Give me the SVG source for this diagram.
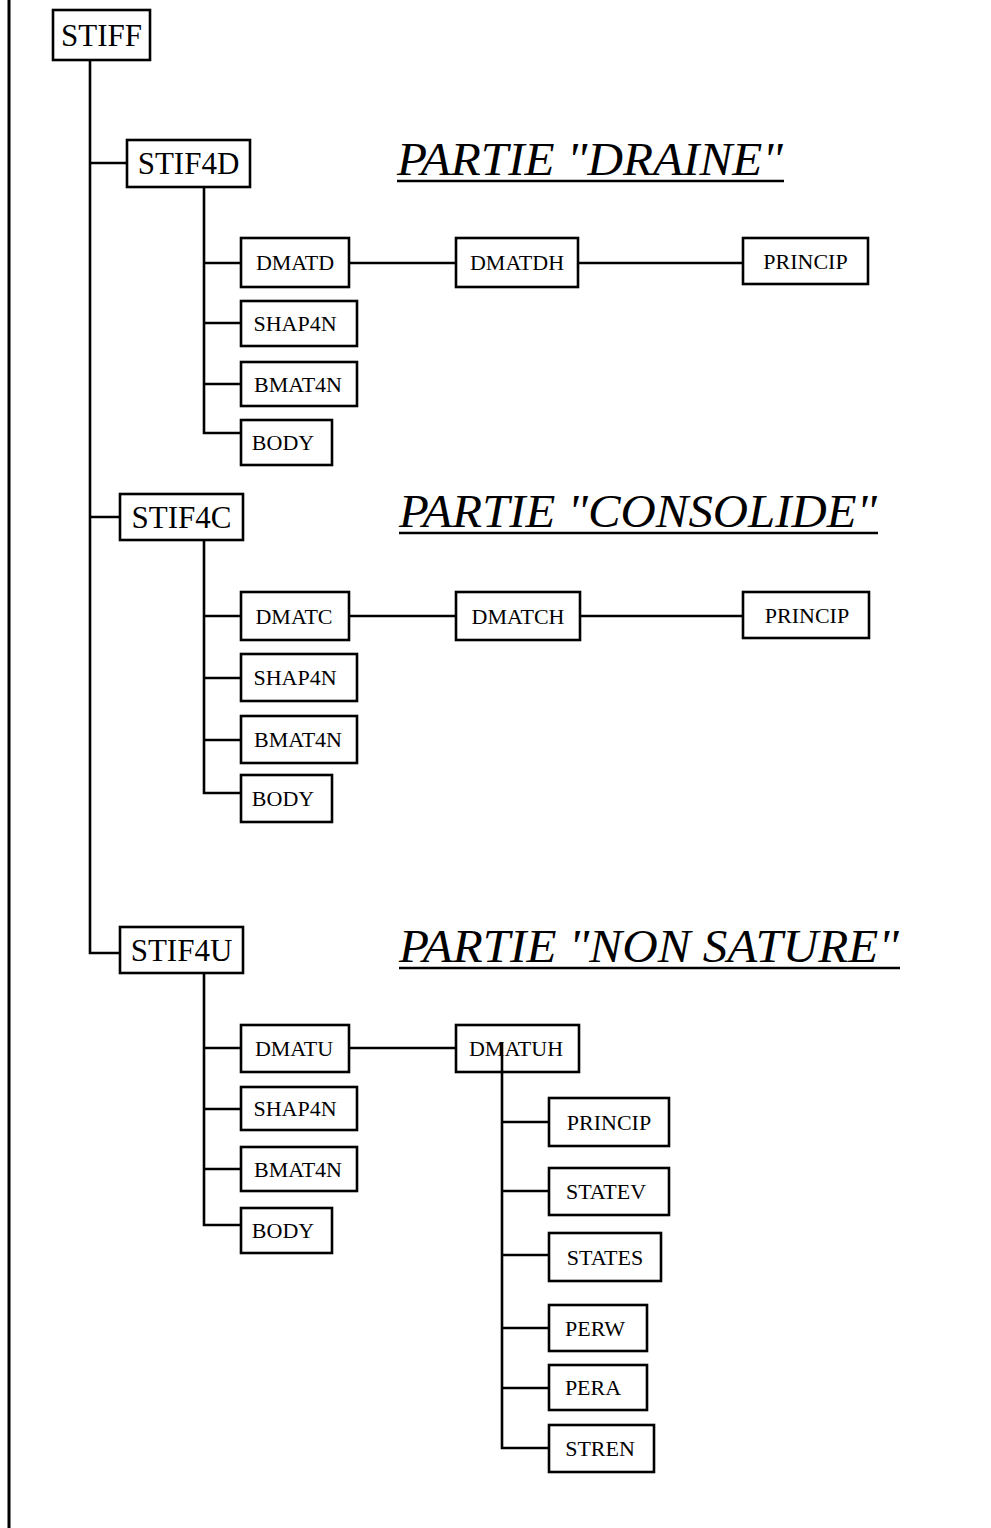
<svg xmlns="http://www.w3.org/2000/svg" width="991" height="1528" viewBox="0 0 991 1528">
<style>
.b{fill:#fff;stroke:#000;stroke-width:2.6}
.t{font-family:"Liberation Serif","Times New Roman",serif;font-size:22px;fill:#000}
.tl{font-family:"Liberation Serif","Times New Roman",serif;font-size:31px;fill:#000}
.h{font-family:"Liberation Serif","Times New Roman",serif;font-style:italic;font-size:46px;fill:#000}
.c{fill:none;stroke:#000;stroke-width:2.6}
.u{stroke:#000;stroke-width:2.4}
</style>
<rect width="991" height="1528" fill="#fff"/>
<line x1="9" y1="0" x2="9" y2="1528" stroke="#000" stroke-width="3"/>
<g id="STIFF"><rect class="b" x="53" y="10" width="97" height="50"/><text class="tl" x="101.5" y="46" text-anchor="middle">STIFF</text></g>
<g id="STIF4D"><rect class="b" x="127" y="140" width="123" height="47"/><text class="tl" x="188.5" y="174" text-anchor="middle">STIF4D</text></g>
<g id="title-draine"><text class="h" x="397" y="175" textLength="386" lengthAdjust="spacingAndGlyphs">PARTIE "DRAINE"</text><line class="u" x1="397" y1="181" x2="784" y2="181"/></g>
<g id="DMATD"><rect class="b" x="241" y="238" width="108" height="49"/><text class="t" x="295" y="270" text-anchor="middle">DMATD</text></g>
<g id="DMATDH"><rect class="b" x="456" y="238" width="122" height="49"/><text class="t" x="517" y="270" text-anchor="middle">DMATDH</text></g>
<g id="PRINCIP-D"><rect class="b" x="743" y="238" width="125" height="46"/><text class="t" x="805.5" y="269" text-anchor="middle">PRINCIP</text></g>
<g id="SHAP4N-D"><rect class="b" x="241" y="301" width="116" height="45"/><text class="t" x="295" y="331" text-anchor="middle">SHAP4N</text></g>
<g id="BMAT4N-D"><rect class="b" x="241" y="362" width="116" height="44"/><text class="t" x="298" y="392" text-anchor="middle">BMAT4N</text></g>
<g id="BODY-D"><rect class="b" x="241" y="420" width="91" height="45"/><text class="t" x="283" y="450" text-anchor="middle">BODY</text></g>
<g id="STIF4C"><rect class="b" x="120" y="494" width="123" height="46"/><text class="tl" x="181.5" y="528" text-anchor="middle">STIF4C</text></g>
<g id="title-consolide"><text class="h" x="399" y="527" textLength="478" lengthAdjust="spacingAndGlyphs">PARTIE "CONSOLIDE"</text><line class="u" x1="399" y1="533" x2="878" y2="533"/></g>
<g id="DMATC"><rect class="b" x="241" y="592" width="108" height="48"/><text class="t" x="294" y="624" text-anchor="middle">DMATC</text></g>
<g id="DMATCH"><rect class="b" x="456" y="592" width="124" height="48"/><text class="t" x="518" y="624" text-anchor="middle">DMATCH</text></g>
<g id="PRINCIP-C"><rect class="b" x="743" y="592" width="126" height="46"/><text class="t" x="807" y="623" text-anchor="middle">PRINCIP</text></g>
<g id="SHAP4N-C"><rect class="b" x="241" y="654" width="116" height="47"/><text class="t" x="295" y="685" text-anchor="middle">SHAP4N</text></g>
<g id="BMAT4N-C"><rect class="b" x="241" y="716" width="116" height="47"/><text class="t" x="298" y="747" text-anchor="middle">BMAT4N</text></g>
<g id="BODY-C"><rect class="b" x="241" y="775" width="91" height="47"/><text class="t" x="283" y="806" text-anchor="middle">BODY</text></g>
<g id="STIF4U"><rect class="b" x="120" y="927" width="123" height="46"/><text class="tl" x="181.5" y="961" text-anchor="middle">STIF4U</text></g>
<g id="title-nonsature"><text class="h" x="399" y="962" textLength="500" lengthAdjust="spacingAndGlyphs">PARTIE "NON SATURE"</text><line class="u" x1="399" y1="968" x2="900" y2="968"/></g>
<g id="DMATU"><rect class="b" x="241" y="1025" width="108" height="47"/><text class="t" x="294" y="1056" text-anchor="middle">DMATU</text></g>
<g id="DMATUH"><rect class="b" x="456" y="1025" width="123" height="47"/><text class="t" x="516" y="1056" text-anchor="middle">DMATUH</text></g>
<g id="SHAP4N-U"><rect class="b" x="241" y="1087" width="116" height="43"/><text class="t" x="295" y="1116" text-anchor="middle">SHAP4N</text></g>
<g id="BMAT4N-U"><rect class="b" x="241" y="1147" width="116" height="44"/><text class="t" x="298" y="1177" text-anchor="middle">BMAT4N</text></g>
<g id="BODY-U"><rect class="b" x="241" y="1208" width="91" height="45"/><text class="t" x="283" y="1238" text-anchor="middle">BODY</text></g>
<g id="PRINCIP-U"><rect class="b" x="549" y="1098" width="120" height="48"/><text class="t" x="609" y="1130" text-anchor="middle">PRINCIP</text></g>
<g id="STATEV"><rect class="b" x="549" y="1168" width="120" height="47"/><text class="t" x="606" y="1199" text-anchor="middle">STATEV</text></g>
<g id="STATES"><rect class="b" x="549" y="1233" width="112" height="48"/><text class="t" x="605" y="1265" text-anchor="middle">STATES</text></g>
<g id="PERW"><rect class="b" x="549" y="1305" width="98" height="46"/><text class="t" x="595" y="1336" text-anchor="middle">PERW</text></g>
<g id="PERA"><rect class="b" x="549" y="1365" width="98" height="45"/><text class="t" x="593" y="1395" text-anchor="middle">PERA</text></g>
<g id="STREN"><rect class="b" x="549" y="1425" width="105" height="47"/><text class="t" x="600" y="1456" text-anchor="middle">STREN</text></g>
<g id="connectors">
<path class="c" d="M90 60V953H120"/>
<path class="c" d="M90 163H127M90 517H120"/>
<path class="c" d="M204 187V433H241M204 263H241M204 323H241M204 384H241"/>
<path class="c" d="M349 263H456M578 263H743"/>
<path class="c" d="M204 540V793H241M204 616H241M204 678H241M204 740H241"/>
<path class="c" d="M349 616H456M580 616H743"/>
<path class="c" d="M204 973V1225H241M204 1048H241M204 1109H241M204 1169H241"/>
<path class="c" d="M349 1048H456"/>
<path class="c" d="M502 1042V1448H549M502 1122H549M502 1191H549M502 1255H549M502 1328H549M502 1388H549"/>
</g>
</svg>
